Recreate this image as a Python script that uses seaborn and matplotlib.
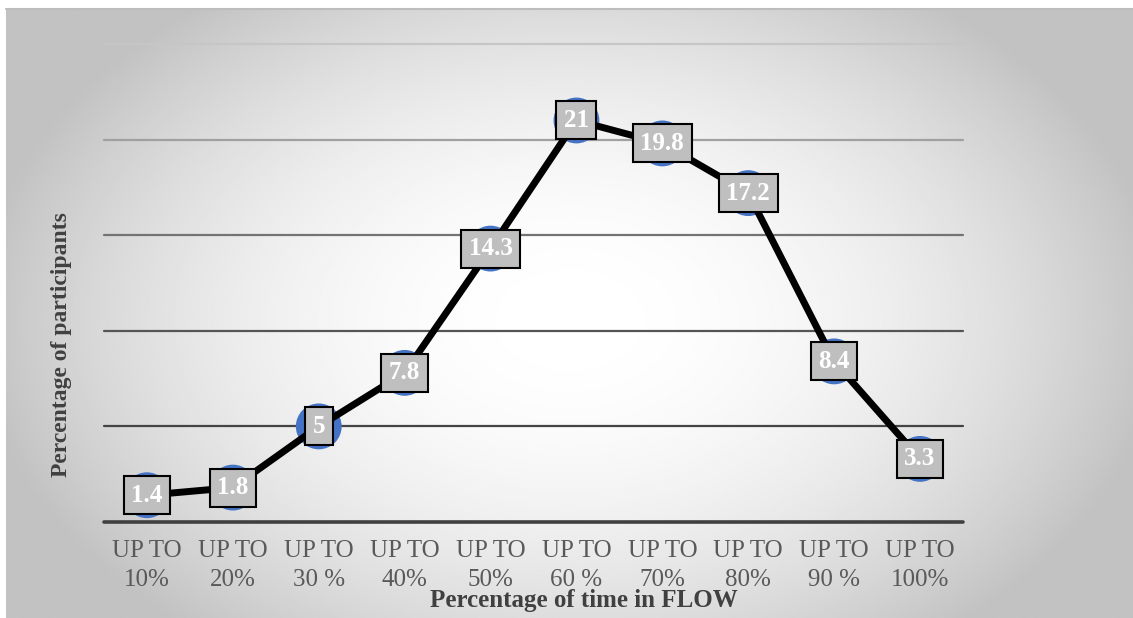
import numpy as np
import pandas as pd
import matplotlib
matplotlib.use("Agg")
import matplotlib.pyplot as plt
import seaborn as sns

# Share of participants by the fraction of time spent in flow
categories = ["UP TO\n10%", "UP TO\n20%", "UP TO\n30 %", "UP TO\n40%", "UP TO\n50%",
              "UP TO\n60 %", "UP TO\n70%", "UP TO\n80%", "UP TO\n90 %", "UP TO\n100%"]
participants = [1.4, 1.8, 5, 7.8, 14.3, 21, 19.8, 17.2, 8.4, 3.3]
grid_levels = [5, 10, 15, 20, 25]

x_title = "Percentage of time in FLOW"
y_title = "Percentage of participants"

sns.set_style("white")
plt.rcParams["font.family"] = ["Liberation Serif", "DejaVu Serif"]

W, H = 1133, 618
fig = plt.figure(figsize=(W / 100, H / 100), dpi=100)
fig.patch.set_facecolor("white")

# Radial grey-to-white backdrop of the chart area
bg = fig.add_axes([6 / W, 0, 1 - 6 / W, (H - 9) / H])
bg.axis("off")
gx, gy = np.meshgrid(np.linspace(6, W, 600), np.linspace(9, H, 330))
d = np.sqrt(((gx - 570) / 620) ** 2 + ((gy - 320) / 420) ** 2)
shade = np.clip(1 - 0.26 * d ** 2, 0.76, 1.0)
bg.imshow(shade, cmap="gray", vmin=0, vmax=1, aspect="auto",
          extent=[0, 1, 0, 1], origin="upper", interpolation="bilinear")
bg.plot([0, 1], [1, 1], color="#bdbdbd", lw=1.5, transform=bg.transAxes, clip_on=False)

ax = fig.add_axes([104 / W, 96 / H, (963 - 104) / W, (574 - 96) / H])
ax.patch.set_alpha(0)
ax.set_zorder(2)

df = pd.DataFrame({"time": categories, "pct": participants})

# Gridlines fade from dark at the bottom to light at the top
grid_colors = ["#444444", "#555555", "#737373", "#a0a0a0", "#c6c6c6"]
for lvl, col in zip(grid_levels, grid_colors):
    ax.axhline(lvl, color=col, lw=1.6, zorder=1, clip_on=False)
ax.axhline(0, color="#404040", lw=2.6, zorder=1, clip_on=False)

sns.scatterplot(data=df, x="time", y="pct", ax=ax, s=33 ** 2,
                color="#4472C4", edgecolor="none", zorder=3, legend=False, clip_on=False)
sns.lineplot(data=df, x="time", y="pct", ax=ax, sort=False, color="black",
             lw=5, zorder=4, clip_on=False)

for i, v in enumerate(participants):
    ax.text(i, v, f"{v:g}", ha="center", va="center", color="white",
            fontsize=18, fontweight="bold", zorder=6,
            bbox=dict(boxstyle="square,pad=0.3", fc="#BFBFBF", ec="black", lw=1.5))

ax.set_xlim(-0.5, len(categories) - 0.5)
ax.set_ylim(0, 25)
ax.set_yticks([])
ax.set_xlabel("")
ax.set_ylabel("")
ax.tick_params(axis="x", length=0, pad=13, labelsize=18, labelcolor="#595959")
for lab in ax.get_xticklabels():
    lab.set_linespacing(1.4)
for s in ax.spines.values():
    s.set_visible(False)

fig.text(584 / W, 1 - 601 / H, x_title, ha="center", va="center",
         fontsize=18, fontweight="bold", color="#404040")
fig.text(62 / W, 1 - 345 / H, y_title, ha="center", va="center", rotation=90,
         fontsize=17, fontweight="bold", color="#404040")

fig.savefig("out.png", dpi=100, facecolor="white")
